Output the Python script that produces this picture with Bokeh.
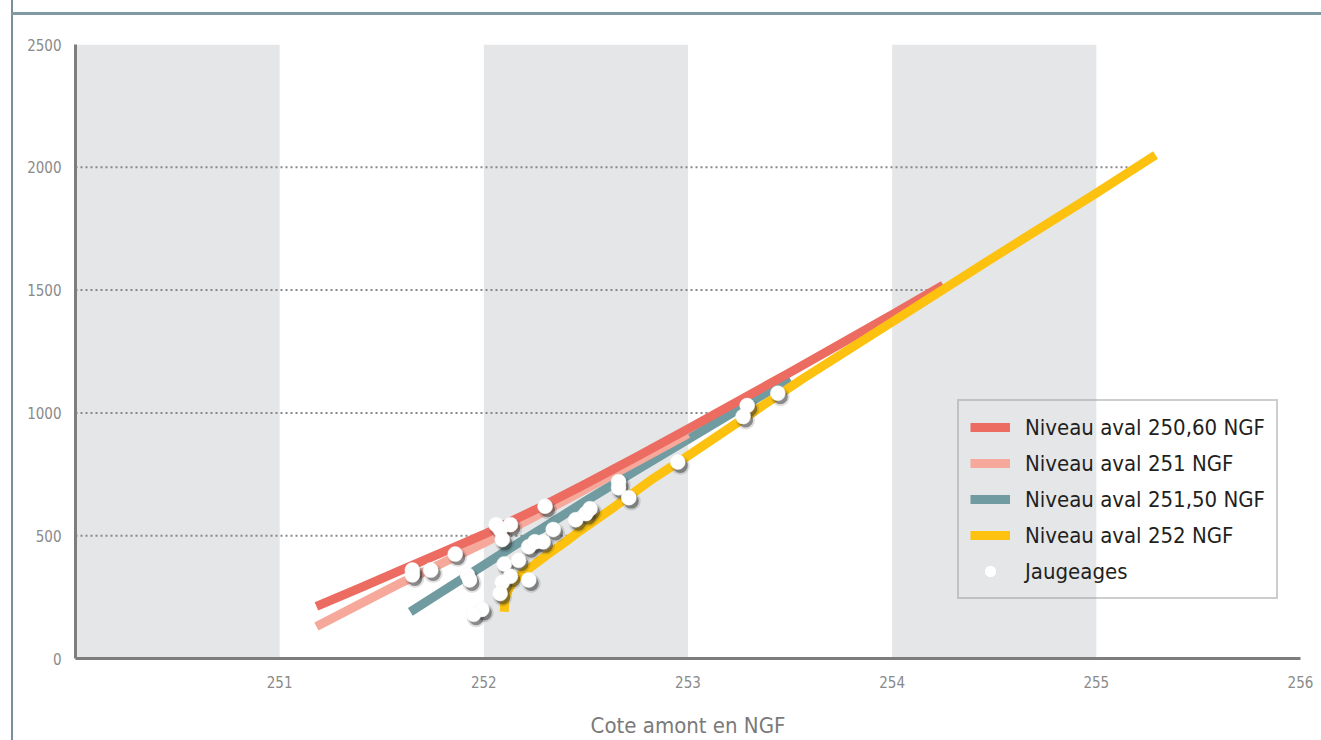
import numpy as np
from bokeh.plotting import figure
from bokeh.models import FixedTicker, Legend, LegendItem, InlineStyleSheet, Range1d
from bokeh.embed import file_html
from bokeh.resources import INLINE

# ---------------- data ----------------
x_ticks = [251, 252, 253, 254, 255, 256]
y_ticks = [0, 500, 1000, 1500, 2000, 2500]
grid_levels = [500, 1000, 1500, 2000]
band_left = [250, 252, 254]
band_right = [251, 253, 255]

red_x = [251.18, 251.4, 251.6, 251.8, 252.0, 252.25, 252.5, 252.75, 253.0, 253.5, 254.0, 254.25]
red_y = [212, 290, 362, 433, 505, 605, 712, 822, 935, 1165, 1400, 1520]
pink_x = [251.18, 251.4, 251.6, 251.8, 252.0, 252.25, 252.5, 252.75, 253.0]
pink_y = [130, 225, 310, 390, 470, 578, 690, 802, 915]
teal_x = [251.64, 251.8, 252.0, 252.16, 252.3, 252.5, 252.75, 253.0, 253.25, 253.5]
teal_y = [190, 275, 380, 465, 537, 642, 768, 892, 1016, 1140]
yellow_x = [252.10, 252.102, 252.11, 252.125, 252.15, 252.19, 252.25, 252.31, 252.40, 252.47,
            252.63, 252.83, 253.0, 253.56, 254.0, 254.5, 255.0, 255.29]
yellow_y = [190, 225, 258, 288, 318, 348, 384, 422, 475, 519,
            612, 733, 825, 1138, 1370, 1635, 1895, 2050]

jaug_x = [252.30, 252.06, 252.13, 252.08, 252.09, 252.34, 252.22, 252.25, 252.29,
          252.45, 252.50, 252.52, 252.66, 252.66, 252.71, 251.86, 251.65, 251.65,
          251.74, 251.92, 251.93, 252.10, 252.17, 252.13, 252.09, 252.22, 252.08,
          251.99, 251.95, 252.95, 253.29, 253.27, 253.44]
jaug_y = [620, 545, 545, 525, 485, 525, 455, 475, 475,
          565, 590, 610, 720, 695, 655, 425, 360, 340,
          360, 340, 320, 385, 400, 335, 310, 320, 265,
          200, 180, 800, 1030, 985, 1080]

series_labels = ["Niveau aval 250,60 NGF", "Niveau aval 251 NGF",
                 "Niveau aval 251,50 NGF", "Niveau aval 252 NGF", "Jaugeages"]
x_title = "Cote amont en NGF"

# ---------------- styling ----------------
FONT = "'DejaVu Sans Condensed', 'Liberation Sans Narrow', sans-serif"
RED = "#ec6c62"
PINK = "#f6a99b"
TEAL = "#6f9ba1"
YELLOW = "#fcc20f"
BAND = "#e5e6e8"

W, H = 1313, 740
ML, MR, MT, MB = 75, 13, 44, 79

p = figure(width=W, height=H, output_backend="svg", toolbar_location=None,
           x_range=Range1d(250, 256), y_range=Range1d(0, 2500),
           min_border_left=ML, min_border_right=MR, min_border_top=MT, min_border_bottom=MB)
p.outline_line_color = None
p.xgrid.grid_line_color = None
p.ygrid.grid_line_color = None
p.background_fill_color = "white"
p.border_fill_color = "white"

# shaded bands
p.quad(left=band_left, right=band_right, bottom=0, top=2500,
       fill_color=BAND, line_color=None)

# dotted gridlines, ending at the right-most curve
curves = [(red_x, red_y), (pink_x, pink_y), (teal_x, teal_y), (yellow_x, yellow_y)]
grid_end = []
for L in grid_levels:
    ends = [np.interp(L, cy, cx) for cx, cy in curves if min(cy) <= L <= max(cy)]
    grid_end.append(max(ends))
p.segment(x0=[250] * len(grid_levels), y0=grid_levels, x1=grid_end, y1=grid_levels,
          line_color="#888888", line_width=2, line_dash="2 3")

# curves
lw = 9
r_teal = p.line(teal_x, teal_y, line_color=TEAL, line_width=lw, line_join="round")
r_pink = p.line(pink_x, pink_y, line_color=PINK, line_width=lw, line_join="round")
r_red = p.line(red_x, red_y, line_color=RED, line_width=lw, line_join="round")
r_yel = p.line(yellow_x, yellow_y, line_color=YELLOW, line_width=lw, line_join="round")

# points with soft shadow
fw = W - ML - MR
fh = H - MT - MB
dx = 2.5 * 6 / fw
dy = 3.5 * 2500 / fh
sx = [v + dx for v in jaug_x]
sy = [v - dy for v in jaug_y]
r_sh2 = p.scatter(sx, sy, size=19, fill_color="#000000", fill_alpha=0.12, line_color=None)
r_sh = p.scatter(sx, sy, size=15, fill_color="#333333", fill_alpha=0.5, line_color=None)
r_pt = p.scatter(jaug_x, jaug_y, size=15, fill_color="white", line_color="#f4f4f4", line_width=0.5)

# axes
for ax in (p.xaxis[0], p.yaxis[0]):
    ax.axis_line_color = "#7d7d7d"
    ax.axis_line_width = 3
    ax.major_tick_line_color = None
    ax.minor_tick_line_color = None
    ax.major_label_text_font = FONT
    ax.major_label_text_font_size = "15px"
    ax.major_label_text_color = "#8a8a8a"
p.xaxis.ticker = FixedTicker(ticks=x_ticks)
p.yaxis.ticker = FixedTicker(ticks=y_ticks)
p.xaxis.major_label_standoff = 11
p.yaxis.major_label_standoff = 8
p.xaxis.axis_label = x_title
p.xaxis.axis_label_text_font = FONT
p.xaxis.axis_label_text_font_size = "22px"
p.xaxis.axis_label_text_font_style = "normal"
p.xaxis.axis_label_text_color = "#7a7a7a"
p.xaxis.axis_label_standoff = 22

# legend
legend = Legend(items=[
    LegendItem(label=series_labels[0], renderers=[r_red]),
    LegendItem(label=series_labels[1], renderers=[r_pink]),
    LegendItem(label=series_labels[2], renderers=[r_teal]),
    LegendItem(label=series_labels[3], renderers=[r_yel]),
    LegendItem(label=series_labels[4], renderers=[r_sh, r_pt]),
], location=(882, 59))
legend.border_line_color = "#9b9b9b"
legend.border_line_width = 2
legend.background_fill_alpha = 0
legend.label_text_font = FONT
legend.label_text_font_size = "22px"
legend.label_text_color = "#231f20"
legend.glyph_width = 40
legend.glyph_height = 30
legend.label_height = 30
legend.spacing = 6
legend.padding = 11
legend.margin = 0
legend.label_standoff = 15
p.add_layout(legend, "center")

css = """
:host::before { content: ""; position: absolute; left: 11px; top: 0px; bottom: 0px;
  width: 2px; background: #7690a0; z-index: 20; }
:host::after { content: ""; position: absolute; left: 11px; right: -8px; top: 12px;
  height: 3px; background: #8199a3; z-index: 20; }
"""
p.stylesheets = [InlineStyleSheet(css=css)]

open("out.html", "w").write(file_html(p, INLINE))
